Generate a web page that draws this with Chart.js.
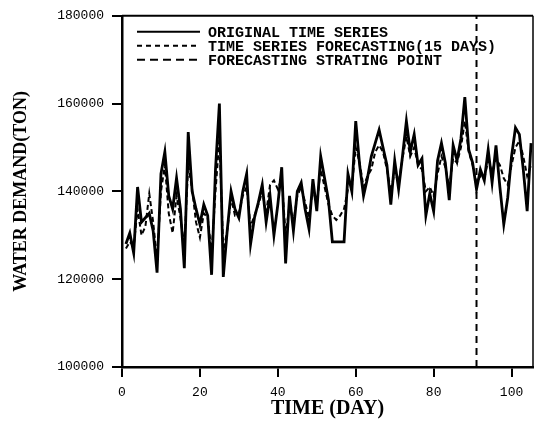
<!DOCTYPE html>
<html>
<head>
<meta charset="utf-8">
<script src="https://cdn.jsdelivr.net/npm/chart.js@4.4.0/dist/chart.umd.min.js"></script>
<style>
  html, body { margin: 0; padding: 0; background: #fff; }
  #wrap { width: 535px; height: 423px; }
</style>
</head>
<body>
<div id="wrap"><canvas id="chart"></canvas></div>
<script>
// daily water demand (ton), day 1..105
const original = [
  128000, 130500, 126000, 141000, 133000, 134000, 135000, 131000, 121500, 144000,
  149000, 139000, 136000, 143000, 136000, 122500, 153500, 140000, 136000, 132500,
  137000, 134500, 121000, 145000, 160000, 120500, 131000, 140000, 136000, 134000,
  140000, 144000, 128000, 134000, 137500, 141500, 133000, 139000, 130000, 137000,
  145500, 123600, 139000, 131000, 140000, 142000, 136000, 131500, 142800, 135500,
  148000, 143000, 138000, 128500, 128500, 128500, 128500, 144000, 140000, 156000,
  146000, 139000, 143000, 148000, 151000, 154000, 150000, 146000, 137000, 147000,
  140500, 148000, 156000, 149000, 153000, 146000, 147500, 134500, 139500, 135500,
  147000, 151000, 146500, 138000, 150500, 147000, 152000, 161500, 149500, 146500,
  140500, 145000, 142500, 149500, 142000, 150500, 141000, 132500, 138500, 148000,
  154500, 153000, 145000, 135500, 151000
];
const forecast = [
  127000, 128500, 127500, 136000, 130000, 132000, 139500, 133000, 124500, 140000,
  146000, 135000, 130500, 139000, 134000, 127500, 146000, 140500, 133000, 129500,
  135000, 134000, 126000, 140000, 152000, 126500, 131000, 138500, 134500, 135000,
  139000, 141000, 132000, 134500, 137000, 140000, 135000, 141500, 142500, 140500,
  143000, 130000, 137000, 133000, 139000, 141000, 137500, 134000, 140500, 137000,
  145000, 141000, 137000, 134500, 133500, 134500, 136000, 140500, 141000, 150000,
  146500, 141000, 143500, 145000, 149000, 150500, 149000, 145000, 140000, 144500,
  142000, 147500, 152500, 148000, 150000, 146000, 145000, 140000, 141000, 139000,
  144000, 148000, 145500, 141000, 147500, 146500, 150000, 156000, 149000, 146000,
  142000, 143500, 143000, 147000, 144500, 147500, 146000, 143000, 141500, 146000,
  150000, 151500, 148000, 143500, 146000
];
const xTicks = [0, 20, 40, 60, 80, 100];
const yTicks = [100000, 120000, 140000, 160000, 180000];
const startDay = 91;
const legendLabels = [
  "ORIGINAL TIME SERIES",
  "TIME SERIES FORECASTING(15 DAYS)",
  "FORECASTING STRATING POINT"
];
const legendDashes = [[], [5, 4], [8, 5]];

const days = original.map((_, i) => i + 1);
const yMin = yTicks[0];
const yMax = yTicks[yTicks.length - 1];

const framePlugin = {
  id: "frame",
  afterDraw(chart) {
    const ctx = chart.ctx;
    const { left, right, top, bottom } = chart.chartArea;
    ctx.save();
    ctx.strokeStyle = "#000";
    ctx.setLineDash([]);
    ctx.lineWidth = 2;
    ctx.beginPath();
    ctx.moveTo(left, top);
    ctx.lineTo(right, top);
    ctx.stroke();
    ctx.lineWidth = 1.5;
    ctx.beginPath();
    ctx.moveTo(right, top);
    ctx.lineTo(right, bottom);
    ctx.stroke();

    // legend inside the plot
    ctx.font = "bold 15px 'Liberation Mono', monospace";
    ctx.fillStyle = "#000";
    ctx.textBaseline = "middle";
    legendLabels.forEach((label, i) => {
      const y = top + 16 + i * 14;
      ctx.lineWidth = 2;
      ctx.setLineDash(legendDashes[i]);
      ctx.beginPath();
      ctx.moveTo(left + 15, y);
      ctx.lineTo(left + 78, y);
      ctx.stroke();
      ctx.setLineDash([]);
      ctx.fillText(label, left + 86, y + 1);
    });
    ctx.restore();
  }
};

const tickFont = { family: "'Liberation Mono', monospace", size: 13 };

new Chart(document.getElementById("chart"), {
  type: "line",
  data: {
    datasets: [
      {
        label: legendLabels[0],
        data: days.map((d, i) => ({ x: d, y: original[i] })),
        borderColor: "#000",
        borderWidth: 2.8,
        pointRadius: 0,
        tension: 0
      },
      {
        label: legendLabels[1],
        data: days.map((d, i) => ({ x: d, y: forecast[i] })),
        borderColor: "#000",
        borderWidth: 2,
        borderDash: [5, 3],
        pointRadius: 0,
        tension: 0
      },
      {
        label: legendLabels[2],
        data: [{ x: startDay, y: yMin }, { x: startDay, y: yMax }],
        borderColor: "#000",
        borderWidth: 2,
        borderDash: [7, 5],
        pointRadius: 0
      }
    ]
  },
  options: {
    responsive: true,
    maintainAspectRatio: false,
    animation: false,
    layout: { padding: { top: 12, right: 2, left: 0, bottom: 0 } },
    plugins: { legend: { display: false }, tooltip: { enabled: false } },
    scales: {
      x: {
        type: "linear",
        min: 0,
        max: 105.5,
        afterBuildTicks: s => { s.ticks = xTicks.map(v => ({ value: v })); },
        afterFit: s => { s.height = 56; },
        border: { color: "#000", width: 2.5 },
        grid: { drawOnChartArea: false, drawTicks: true, tickLength: 10, color: "#000", lineWidth: 2 },
        ticks: {
          color: "#000",
          padding: 8,
          maxRotation: 0,
          font: tickFont,
          callback: v => String(v)
        },
        title: {
          display: true,
          text: "TIME (DAY)",
          color: "#000",
          padding: { top: 0, bottom: 2 },
          font: { family: "'Liberation Serif', serif", size: 20, weight: "bold" }
        }
      },
      y: {
        min: yMin,
        max: yMax,
        afterBuildTicks: s => { s.ticks = yTicks.map(v => ({ value: v })); },
        afterFit: s => { s.width = 122; },
        border: { color: "#000", width: 2.5 },
        grid: { drawOnChartArea: false, drawTicks: true, tickLength: 10, color: "#000", lineWidth: 2 },
        ticks: {
          color: "#000",
          padding: 8,
          font: tickFont,
          callback: v => String(v)
        },
        title: {
          display: true,
          text: "WATER DEMAND(TON)",
          color: "#000",
          padding: { top: 11, bottom: 0 },
          font: { family: "'Liberation Serif', serif", size: 18, weight: "bold" }
        }
      }
    }
  },
  plugins: [framePlugin]
});
</script>
</body>
</html>
